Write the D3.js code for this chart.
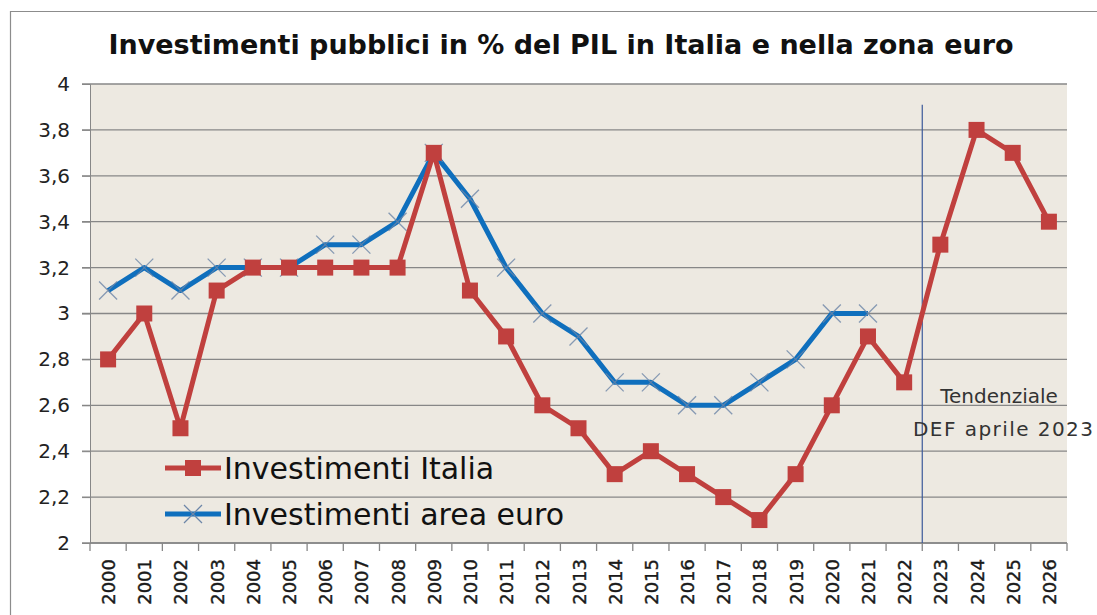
<!DOCTYPE html>
<html>
<head>
<meta charset="utf-8">
<script src="https://cdn.jsdelivr.net/npm/d3@7"></script>
<style>
  body { margin: 0; background: #fff; }
  svg { display: block; font-family: "DejaVu Sans", Verdana, sans-serif; }
</style>
</head>
<body>
<svg id="chart" width="1097" height="615"></svg>
<script>
// anni sull'asse x
const years = ["2000","2001","2002","2003","2004","2005","2006","2007","2008","2009",
  "2010","2011","2012","2013","2014","2015","2016","2017","2018","2019",
  "2020","2021","2022","2023","2024","2025","2026"];

// investimenti pubblici Italia (% PIL)
const italia = [2.8, 3.0, 2.5, 3.1, 3.2, 3.2, 3.2, 3.2, 3.2, 3.7,
  3.1, 2.9, 2.6, 2.5, 2.3, 2.4, 2.3, 2.2, 2.1, 2.3,
  2.6, 2.9, 2.7, 3.3, 3.8, 3.7, 3.4];

// investimenti pubblici area euro (% PIL)
const euro = [3.1, 3.2, 3.1, 3.2, 3.2, 3.2, 3.3, 3.3, 3.4, 3.7,
  3.5, 3.2, 3.0, 2.9, 2.7, 2.7, 2.6, 2.6, 2.7, 2.8,
  3.0, 3.0, null, null, null, null, null];

const yTicks = [2, 2.2, 2.4, 2.6, 2.8, 3, 3.2, 3.4, 3.6, 3.8, 4];

const svg = d3.select('#chart');
const margin = {left: 90, right: 30, top: 84, bottom: 72};
const W = 1097, H = 615;

const x = d3.scaleBand().domain(years).range([margin.left, W - margin.right]);
const y = d3.scaleLinear().domain([2, 4]).range([H - margin.bottom, margin.top]);

const red = '#c0403e', blue = '#0f6fbd';
const fmt = d => d3.format('.1f')(d).replace('.0', '').replace('.', ',');

// cornice esterna
svg.append('path')
  .attr('d', `M10.5,${H} V11.5 H${W}`)
  .attr('fill', 'none').attr('stroke', '#8c8c8c').attr('stroke-width', 1.2);

// titolo
svg.append('text')
  .attr('x', 561).attr('y', 54)
  .attr('text-anchor', 'middle')
  .attr('font-size', 27).attr('font-weight', 'bold')
  .attr('fill', '#111')
  .text('Investimenti pubblici in % del PIL in Italia e nella zona euro');

// area del grafico
svg.append('rect')
  .attr('x', margin.left).attr('y', margin.top)
  .attr('width', W - margin.right - margin.left)
  .attr('height', H - margin.bottom - margin.top)
  .attr('fill', '#ede9e1');

// griglia
svg.append('g')
  .selectAll('line').data(yTicks).join('line')
  .attr('x1', margin.left - 8).attr('x2', W - margin.right)
  .attr('y1', d => y(d)).attr('y2', d => y(d))
  .attr('stroke', '#878787').attr('stroke-width', 1.3);

// asse y
const yAxis = svg.append('g')
  .attr('transform', `translate(${margin.left},0)`)
  .call(d3.axisLeft(y).tickValues(yTicks).tickFormat(fmt).tickSize(8).tickPadding(12));
yAxis.select('.domain').attr('stroke', '#878787');
yAxis.selectAll('.tick line').attr('stroke', '#878787');
yAxis.selectAll('text').attr('font-size', 20).attr('fill', '#222')
  .attr('font-family', '"DejaVu Sans", Verdana, sans-serif');

// asse x: tacche tra le categorie
const bounds = years.map(d => x(d)).concat([x.range()[1]]);
svg.append('g').selectAll('line').data(bounds).join('line')
  .attr('x1', d => d).attr('x2', d => d)
  .attr('y1', y(2)).attr('y2', y(2) + 8)
  .attr('stroke', '#878787').attr('stroke-width', 1.3);
svg.append('line')
  .attr('x1', margin.left).attr('x2', W - margin.right)
  .attr('y1', y(2)).attr('y2', y(2))
  .attr('stroke', '#878787').attr('stroke-width', 1.3);

svg.append('g').selectAll('text').data(years).join('text')
  .attr('transform', d => `translate(${x(d) + x.bandwidth() / 2 + 7},${y(2) + 16}) rotate(-90)`)
  .attr('text-anchor', 'end')
  .attr('font-size', 18).attr('fill', '#1a1a1a')
  .attr('stroke', '#1a1a1a').attr('stroke-width', 0.4)
  .text(d => d);

// linea verticale previsioni
const xSplit = x('2023');
svg.append('line')
  .attr('x1', xSplit).attr('x2', xSplit)
  .attr('y1', y(3.91)).attr('y2', y(2))
  .attr('stroke', '#3b5a9a').attr('stroke-width', 1.2);

svg.append('text')
  .attr('x', 999).attr('y', 403)
  .attr('text-anchor', 'middle').attr('font-size', 20).attr('fill', '#333')
  .text('Tendenziale');
svg.append('text')
  .attr('x', 1003).attr('y', 436)
  .attr('text-anchor', 'middle').attr('font-size', 20).attr('fill', '#333')
  .attr('textLength', 180).attr('lengthAdjust', 'spacing')
  .text('DEF aprile 2023');

const cx = d => x(d) + x.bandwidth() / 2;
const line = d3.line()
  .defined(d => d.v != null)
  .x(d => cx(d.year)).y(d => y(d.v));

const euroPts = years.map((yr, i) => ({year: yr, v: euro[i]})).filter(d => d.v != null);
const itaPts = years.map((yr, i) => ({year: yr, v: italia[i]}));

// serie area euro
svg.append('path').datum(euroPts)
  .attr('d', line).attr('fill', 'none')
  .attr('stroke', blue).attr('stroke-width', 5).attr('stroke-linejoin', 'round');
svg.append('g').selectAll('path').data(euroPts).join('path')
  .attr('d', d => { const px = cx(d.year), py = y(d.v), s = 9;
    return `M${px - s},${py - s}L${px + s},${py + s}M${px - s},${py + s}L${px + s},${py - s}`; })
  .attr('stroke', '#6d86a8').attr('stroke-width', 1.3).attr('opacity', 0.8);

// serie Italia
svg.append('path').datum(itaPts)
  .attr('d', line).attr('fill', 'none')
  .attr('stroke', red).attr('stroke-width', 5).attr('stroke-linejoin', 'round');
svg.append('g').selectAll('rect').data(itaPts).join('rect')
  .attr('x', d => cx(d.year) - 8).attr('y', d => y(d.v) - 8)
  .attr('width', 16).attr('height', 16)
  .attr('fill', red);

// legenda
const legend = [
  {label: 'Investimenti Italia', color: red, marker: 'square', yy: 468},
  {label: 'Investimenti area euro', color: blue, marker: 'x', yy: 514}
];
const lg = svg.append('g');
legend.forEach(l => {
  lg.append('line')
    .attr('x1', 165).attr('x2', 221).attr('y1', l.yy).attr('y2', l.yy)
    .attr('stroke', l.color).attr('stroke-width', 5);
  if (l.marker === 'square') {
    lg.append('rect').attr('x', 185).attr('y', l.yy - 8).attr('width', 16).attr('height', 16).attr('fill', l.color);
  } else {
    lg.append('path')
      .attr('d', `M184,${l.yy - 9}L202,${l.yy + 9}M184,${l.yy + 9}L202,${l.yy - 9}`)
      .attr('stroke', '#6d86a8').attr('stroke-width', 1.3);
  }
  lg.append('text')
    .attr('x', 224).attr('y', l.yy + 11)
    .attr('font-size', 30).attr('fill', '#111')
    .text(l.label);
});
</script>
</body>
</html>
